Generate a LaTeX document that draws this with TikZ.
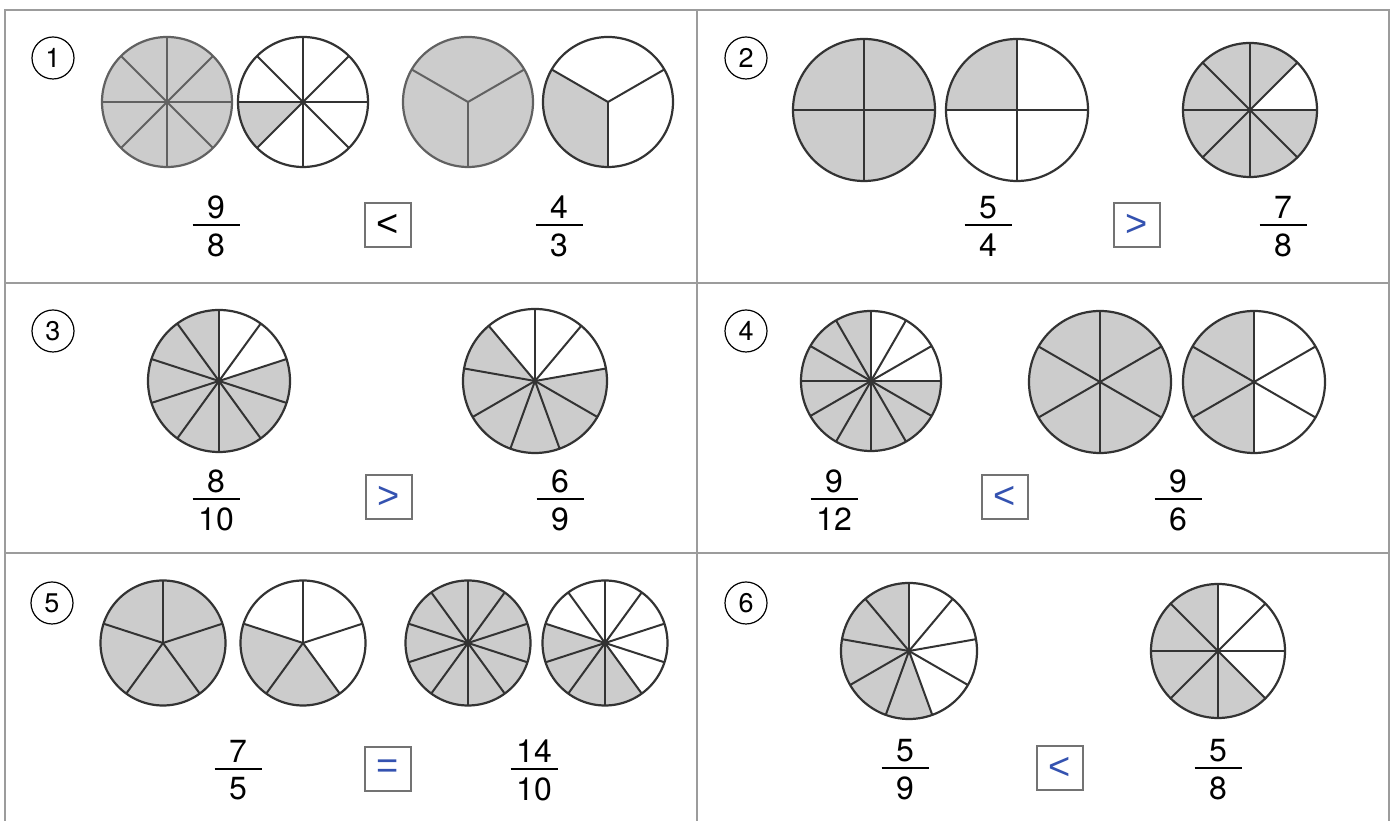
\documentclass[tikz,border=0pt]{standalone}
\usepackage{fontspec}
\setmainfont{TeX Gyre Heros}
\newfontfamily\symfont{Liberation Sans}
\usepackage{tikz}
\usetikzlibrary{calc,positioning}
\definecolor{pieshade}{RGB}{204,204,204}
\definecolor{pieline}{RGB}{51,51,51}
\definecolor{gridline}{RGB}{156,156,156}
\definecolor{symblue}{RGB}{52,82,176}
\tikzset{
  grid/.style={draw=gridline, line width=2pt},
  rim/.style={draw=pieline, line width=2.2pt},
  spoke/.style={draw=pieline, line width=2pt},
  softrim/.style={draw=black!62},
  numlabel/.style={circle, draw, line width=1.2pt, minimum size=42pt, inner sep=0pt,
    font=\fontsize{27}{30}\selectfont},
  frac/.style={inner sep=0pt, font=\fontsize{32}{38}\selectfont},
  cmpbox/.style={draw=black!55, line width=1.4pt, fill=white, minimum width=46pt,
    minimum height=44pt, inner sep=0pt, font=\symfont\fontsize{38}{42}\selectfont},
  bluesym/.style={text=symblue}
}
% #2 centre, #3 radius, #4 parts, #5 first spoke, #6--#7 shaded angles
\newcommand{\fracpie}[7][]{%
  \begin{scope}[shift={(#2)}]
    \fill[pieshade] (0,0) -- (#6:#3) arc[start angle=#6, end angle=#7, radius=#3] -- cycle;
    \foreach \k in {1,...,#4} \draw[spoke,#1] (0,0) -- ({#5+360/#4*\k}:#3);
    \draw[rim,#1] (0,0) circle[radius=#3];
  \end{scope}}
\newcommand{\fr}[2]{\vbox{\hbox to 47pt{\hss#1\hss}\kern5pt\hrule height 2pt\kern8pt
  \hbox to 47pt{\hss#2\hss}}}

\begin{document}
\begin{tikzpicture}[x=1pt,y=1pt]
  \useasboundingbox (0,0) rectangle (1393,821);
  % frame
  \draw[grid] (5,0) -- (5,810.5) -- (1389,810.5) -- (1389,0);
  \draw[grid] (697,0) -- (697,810.5);
  \draw[grid] (5,538) -- (1389,538);
  \draw[grid] (5,268) -- (1389,268);

  % 1
  \node[numlabel] (n1) at (53,763) {1};
  \fracpie[softrim]{167,719}{65}{8}{0}{0}{360}
  \fracpie{303,719}{65}{8}{0}{180}{225}
  \fracpie[softrim]{468,719}{65}{3}{30}{0}{360}
  \fracpie{608,719}{65}{3}{30}{150}{270}
  \node[frac] (f1l) at (216,594.5) {\fr{9}{8}};
  \node[cmpbox] (c1) at (388,596) {<};
  \node[frac] (f1r) at (559,594.5) {\fr{4}{3}};

  % 2
  \node[numlabel] (n2) at (746,763) {2};
  \fracpie{864,711}{71}{4}{0}{0}{360}
  \fracpie{1017,711}{71}{4}{0}{90}{180}
  \fracpie{1250,711}{67}{8}{0}{45}{360}
  \node[frac] (f2l) at (988,594.5) {\fr{5}{4}};
  \node[cmpbox, bluesym] (c2) at (1137,596) {>};
  \node[frac] (f2r) at (1283,594.5) {\fr{7}{8}};

  % 3
  \node[numlabel] (n3) at (53,490) {3};
  \fracpie{219,440}{71}{10}{18}{90}{378}
  \fracpie{535,440}{72}{9}{10}{130}{370}
  \node[frac] (f3l) at (216,320.5) {\fr{8}{10}};
  \node[cmpbox, bluesym] (c3) at (389,324) {>};
  \node[frac] (f3r) at (560,320.5) {\fr{6}{9}};

  % 4
  \node[numlabel] (n4) at (746,490) {4};
  \fracpie{871,440}{70}{12}{0}{90}{360}
  \fracpie{1100,439}{71}{6}{30}{0}{360}
  \fracpie{1254,439}{71}{6}{30}{90}{270}
  \node[frac] (f4l) at (834,320.5) {\fr{9}{12}};
  \node[cmpbox, bluesym] (c4) at (1005,324) {<};
  \node[frac] (f4r) at (1178,320.5) {\fr{9}{6}};

  % 5
  \node[numlabel] (n5) at (52,218) {5};
  \fracpie{163,178}{62.5}{5}{18}{0}{360}
  \fracpie{303,178}{62.5}{5}{18}{162}{306}
  \fracpie{468,178}{62.5}{10}{18}{0}{360}
  \fracpie{605,178}{62.5}{10}{18}{162}{306}
  \node[frac] (f5l) at (238,50.5) {\fr{7}{5}};
  \node[cmpbox, bluesym] (c5) at (388,52) {=};
  \node[frac] (f5r) at (534,50.5) {\fr{14}{10}};

  % 6
  \node[numlabel] (n6) at (746,218) {6};
  \fracpie{909,170}{68}{9}{10}{90}{290}
  \fracpie{1218,170}{67}{8}{0}{90}{315}
  \node[frac] (f6l) at (905,51.5) {\fr{5}{9}};
  \node[cmpbox, bluesym] (c6) at (1060,53) {<};
  \node[frac] (f6r) at (1218,51.5) {\fr{5}{8}};
\end{tikzpicture}
\end{document}
